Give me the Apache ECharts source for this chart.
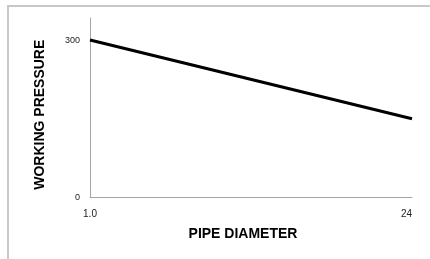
<!DOCTYPE html>
<html>
<head>
<meta charset="utf-8">
<script src="https://cdn.jsdelivr.net/npm/echarts@6/dist/echarts.min.js"></script>
<style>
  html, body { margin: 0; padding: 0; background: #fff; }
  .board { position: absolute; left: 7px; top: 5px; width: 430px; height: 260px;
           border-top: 2px solid #c8c8c8; border-left: 2px solid #c8c8c8; }
  #chart { position: absolute; left: 0; top: 0; width: 430px; height: 259px; }
</style>
</head>
<body>
<div class="board"></div>
<div id="chart"></div>
<script>
// pipe diameter vs working pressure
var diameters = ['1.0', '24'];
var pressure = [300, 150];
var yTicks = [0, 300];

var chart = echarts.init(document.getElementById('chart'), null, { renderer: 'canvas' });
chart.setOption({
  animation: false,
  grid: { left: 90, right: 18, top: 18, bottom: 61.5 },
  xAxis: {
    type: 'category',
    data: diameters,
    boundaryGap: false,
    name: 'PIPE DIAMETER',
    nameLocation: 'middle',
    nameGap: 30,
    nameTextStyle: { fontFamily: 'Liberation Sans', fontWeight: 'bold', fontSize: 14, color: '#000', padding: [0, 16, 0, 0] },
    axisLine: { lineStyle: { color: '#a6a6a6', width: 1 } },
    axisTick: { show: false },
    axisLabel: { margin: 12, fontFamily: 'Liberation Sans', fontSize: 10, color: '#222', alignMaxLabel: 'right' },
    splitLine: { show: false }
  },
  yAxis: {
    type: 'value',
    min: 0,
    max: 342,
    interval: 300,
    name: 'WORKING PRESSURE',
    nameLocation: 'middle',
    nameGap: 43,
    nameTextStyle: { fontFamily: 'Liberation Sans', fontWeight: 'bold', fontSize: 14, color: '#000', padding: [0, 14, 0, 0] },
    axisLine: { show: true, lineStyle: { color: '#a6a6a6', width: 1 } },
    axisTick: { show: false },
    axisLabel: {
      margin: 10, fontFamily: 'Liberation Sans', fontSize: 9, color: '#222',
      formatter: function (v) { return yTicks.indexOf(v) >= 0 ? String(v) : ''; }
    },
    splitLine: { show: false }
  },
  series: [{
    type: 'line',
    data: pressure,
    symbol: 'none',
    lineStyle: { color: '#000', width: 3 }
  }]
});
</script>
</body>
</html>
